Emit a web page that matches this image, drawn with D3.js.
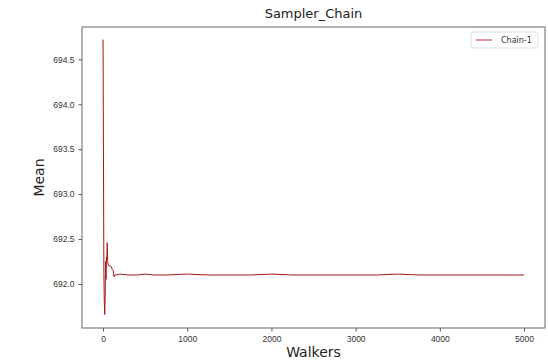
<!DOCTYPE html>
<html>
<head>
<meta charset="utf-8">
<script src="https://cdn.jsdelivr.net/npm/d3@7"></script>
<style>
  body { margin: 0; background: #fff; }
  svg { font-family: "DejaVu Sans", sans-serif; }
</style>
</head>
<body>
<svg id="chart" width="548" height="362"></svg>
<script>
// chain data
var walkers = [0, 5, 10, 15, 20, 25, 30, 35, 40, 45, 50, 55, 60, 70, 80, 90, 100, 110, 120, 130, 140, 160,
  200, 300, 400, 500, 600, 750, 1000, 1250, 1500, 1750, 2000, 2250, 2500, 2750, 3000, 3250, 3500, 3750,
  4000, 4250, 4500, 4750, 5000];
var means = [694.72, 693.4, 692.1, 691.8, 691.66, 691.85, 692.25, 692.05, 692.3, 692.28, 692.46, 692.25, 692.22, 692.2, 692.2, 692.2, 692.19, 692.16, 692.15, 692.08, 692.1, 692.1,
  692.11, 692.1, 692.1, 692.11, 692.1, 692.1, 692.11, 692.1, 692.1, 692.1, 692.11, 692.1, 692.1, 692.1, 692.1, 692.1, 692.11, 692.1,
  692.1, 692.1, 692.1, 692.1, 692.1];
var xTicks = [0, 1000, 2000, 3000, 4000, 5000];
var yTicks = [692.0, 692.5, 693.0, 693.5, 694.0, 694.5];
var seriesName = "Chain-1";

var svg = d3.select("#chart");
var margin = {top: 27, right: 3, bottom: 34, left: 82};
var width = 548, height = 362;

var x = d3.scaleLinear()
    .domain([-250, 5249])
    .range([margin.left, width - margin.right]);
var y = d3.scaleLinear()
    .domain([691.51, 694.86])
    .range([height - margin.bottom, margin.top]);

// axes
var xAxis = svg.append("g")
    .attr("transform", `translate(0,${height - margin.bottom})`)
    .call(d3.axisBottom(x).tickValues(xTicks).tickFormat(d3.format("d")).tickSize(3.5).tickPadding(4));
var yAxis = svg.append("g")
    .attr("transform", `translate(${margin.left},0)`)
    .call(d3.axisLeft(y).tickValues(yTicks).tickFormat(d3.format(".1f")).tickSize(3.5).tickPadding(4));
[xAxis, yAxis].forEach(function(g) {
  g.select(".domain").remove();
  g.selectAll("line").attr("stroke", "#555");
  g.selectAll("text").attr("fill", "#333").style("font-size", "8.5px");
});

// frame
svg.append("rect")
    .attr("x", margin.left)
    .attr("y", margin.top)
    .attr("width", width - margin.left - margin.right)
    .attr("height", height - margin.top - margin.bottom)
    .attr("fill", "none")
    .attr("stroke", "#666")
    .attr("stroke-width", 1);

var line = d3.line()
    .x(function(d, i) { return x(walkers[i]); })
    .y(function(d) { return y(d); });

svg.append("path")
    .datum(means)
    .attr("fill", "none")
    .attr("stroke", "#a01818")
    .attr("stroke-width", 1)
    .attr("d", line);

// title + labels
svg.append("text")
    .attr("x", (margin.left + width - margin.right) / 2)
    .attr("y", 18)
    .attr("text-anchor", "middle")
    .style("font-size", "13px")
    .attr("fill", "#222")
    .text("Sampler_Chain");
svg.append("text")
    .attr("x", (margin.left + width - margin.right) / 2)
    .attr("y", 357)
    .attr("text-anchor", "middle")
    .style("font-size", "14px")
    .attr("fill", "#222")
    .text("Walkers");
svg.append("text")
    .attr("transform", "translate(44," + ((margin.top + height - margin.bottom) / 2) + ") rotate(-90)")
    .attr("text-anchor", "middle")
    .style("font-size", "14px")
    .attr("fill", "#222")
    .text("Mean");

// legend
var lg = svg.append("g").attr("transform", "translate(471,32)");
lg.append("rect")
    .attr("width", 67).attr("height", 16).attr("rx", 2)
    .attr("fill", "#fff").attr("stroke", "#ddd");
lg.append("line")
    .attr("x1", 5).attr("x2", 21).attr("y1", 8).attr("y2", 8)
    .attr("stroke", "#c03030").attr("stroke-width", 1);
lg.append("text")
    .attr("x", 30).attr("y", 11)
    .style("font-size", "8px")
    .attr("fill", "#333")
    .text(seriesName);
</script>
</body>
</html>
